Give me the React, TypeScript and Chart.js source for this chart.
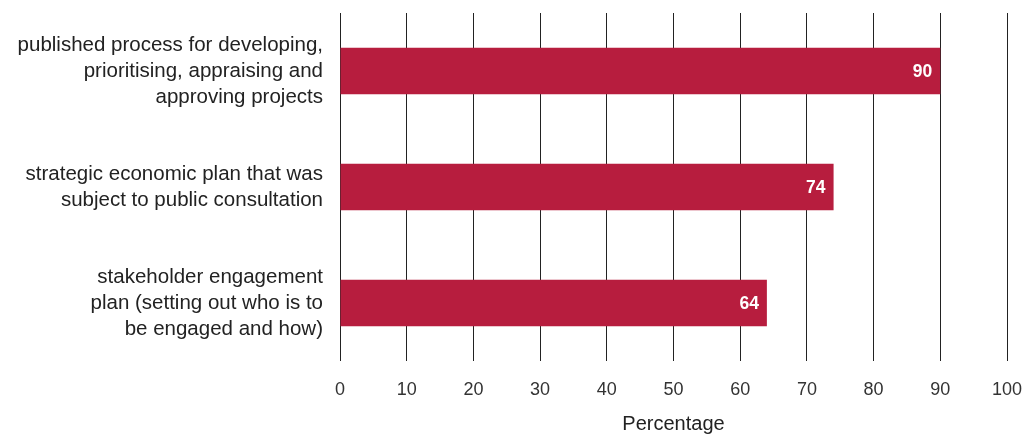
import React, { useEffect, useRef } from "react";
import { Chart, registerables } from "chart.js";

Chart.register(...registerables);

const categories: string[][] = [
  ["published process for developing,", "prioritising, appraising and", "approving projects"],
  ["strategic economic plan that was", "subject to public consultation"],
  ["stakeholder engagement", "plan (setting out who is to", "be engaged and how)"],
];
const percentages: number[] = [90, 74, 64];
const xTicks: number[] = [0, 10, 20, 30, 40, 50, 60, 70, 80, 90, 100];

const FONT = "'Liberation Sans', Arial, Helvetica, sans-serif";

// White value labels drawn just inside the end of each bar
const valueLabels = {
  id: "valueLabels",
  afterDatasetsDraw(chart: Chart) {
    const { ctx } = chart;
    const meta = chart.getDatasetMeta(0);
    const data = chart.data.datasets[0].data as number[];
    ctx.save();
    ctx.fillStyle = "#ffffff";
    ctx.font = `bold 17.5px ${FONT}`;
    ctx.textAlign = "right";
    ctx.textBaseline = "middle";
    meta.data.forEach((bar: any, i: number) => {
      ctx.fillText(String(data[i]), bar.x - 8, bar.y + 1);
    });
    ctx.restore();
  },
};

// Drop the automatic edge padding that Chart.js reserves for tick labels
const noEdgePadding = (scale: any) => {
  scale.paddingTop = 0;
  scale.paddingBottom = 0;
  scale.paddingLeft = 0;
  scale.paddingRight = 0;
};

export default function App() {
  const canvasRef = useRef<HTMLCanvasElement>(null);

  useEffect(() => {
    if (!canvasRef.current) return;
    const chart = new Chart(canvasRef.current, {
      type: "bar",
      data: {
        labels: categories,
        datasets: [
          {
            data: percentages,
            backgroundColor: "#B71D3E",
            borderWidth: 0,
            categoryPercentage: 0.8,
            barPercentage: 0.5,
          },
        ],
      },
      options: {
        indexAxis: "y",
        animation: false,
        responsive: true,
        maintainAspectRatio: false,
        layout: { padding: { top: 13, right: 21, bottom: 0, left: 0 } },
        plugins: {
          legend: { display: false },
          tooltip: { enabled: false },
        },
        scales: {
          x: {
            min: 0,
            max: 100,
            afterBuildTicks: (scale: any) => {
              scale.ticks = xTicks.map((v) => ({ value: v }));
            },
            afterFit: (scale: any) => {
              scale.height = 74;
              noEdgePadding(scale);
            },
            grid: {
              color: "#222",
              lineWidth: 1,
              drawTicks: false,
            },
            border: { display: false },
            ticks: {
              padding: 18,
              color: "#333",
              font: { family: FONT, size: 18 },
            },
            title: {
              display: true,
              text: "Percentage",
              color: "#222",
              padding: { top: 0, bottom: -1 },
              font: { family: FONT, size: 20 },
            },
          },
          y: {
            afterFit: (scale: any) => {
              scale.width = 340;
              noEdgePadding(scale);
            },
            grid: { display: false, drawTicks: false },
            border: { display: false },
            ticks: {
              padding: 17,
              color: "#222",
              font: { family: FONT, size: 20.5, lineHeight: 1.27 },
            },
          },
        },
      },
      plugins: [valueLabels],
    });
    return () => chart.destroy();
  }, []);

  return (
    <div style={{ position: "absolute", left: 0, top: 0, width: 1028, height: 435, background: "#fff" }}>
      <canvas ref={canvasRef} />
    </div>
  );
}
